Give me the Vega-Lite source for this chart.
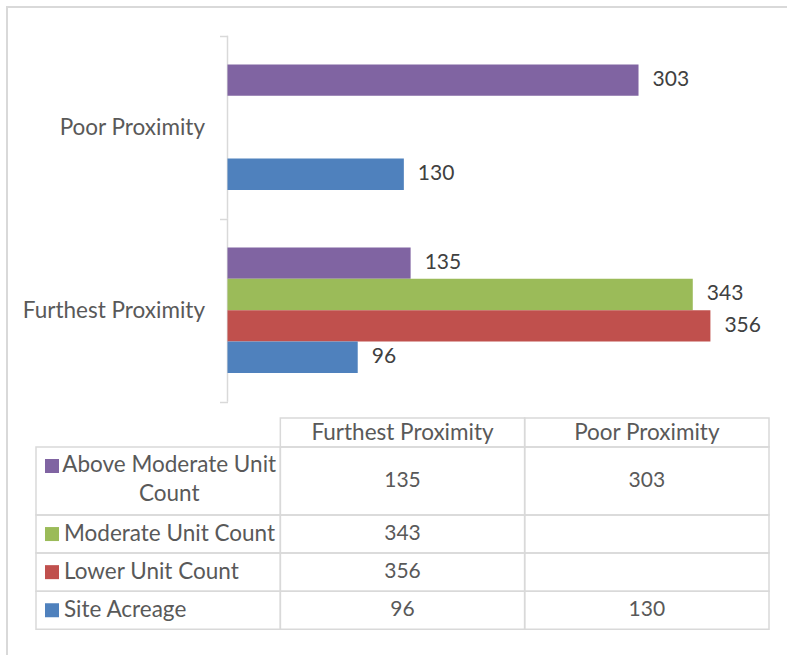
{
  "$schema": "https://vega.github.io/schema/vega-lite/v6.json",
  "width": 784,
  "height": 652,
  "autosize": {"type": "none"},
  "padding": {"left": 7, "top": 7, "right": -4, "bottom": -4},
  "background": "white",
  "config": {
    "view": {"stroke": "#d9d9d9", "strokeWidth": 2},
    "font": "Lato",
    "text": {"font": "Lato", "fontSize": 22.5, "color": "#595959"}
  },
  "datasets": {
    "bars": [
      {"proximity": "Furthest Proximity", "series": "Above Moderate Unit Count", "value": 135},
      {"proximity": "Furthest Proximity", "series": "Moderate Unit Count", "value": 343},
      {"proximity": "Furthest Proximity", "series": "Lower Unit Count", "value": 356},
      {"proximity": "Furthest Proximity", "series": "Site Acreage", "value": 96},
      {"proximity": "Poor Proximity", "series": "Above Moderate Unit Count", "value": 303},
      {"proximity": "Poor Proximity", "series": "Moderate Unit Count", "value": null},
      {"proximity": "Poor Proximity", "series": "Lower Unit Count", "value": null},
      {"proximity": "Poor Proximity", "series": "Site Acreage", "value": 130}
    ]
  },
  "data": {"name": "bars"},
  "resolve": {"scale": {"x": "independent", "y": "independent"}},
  "layer": [
    {
      "layer": [
        {
          "transform": [{"filter": "datum.series === 'Site Acreage'"}],
          "mark": {"type": "rect", "fill": "transparent", "stroke": "#d9d9d9", "strokeWidth": 1.5},
          "encoding": {
            "y": {
              "field": "proximity", "type": "nominal",
              "scale": {"domain": ["Poor Proximity", "Furthest Proximity"], "range": [28.7, 394.7], "paddingInner": 0, "paddingOuter": 0},
              "axis": {
                "orient": "left", "offset": -220.5, "title": null, "domain": false, "grid": false,
                "tickBand": "extent", "tickSize": 8, "tickWidth": 1.5, "tickColor": "#d9d9d9",
                "labelPadding": 15, "labelFont": "Lato", "labelFontSize": 22.5, "labelColor": "#595959", "labelLimit": 0
              }
            },
            "x": {"datum": 0, "type": "quantitative", "scale": {"domain": [0, 400], "range": [220.5, 763.1], "nice": false, "zero": false}, "axis": null},
            "x2": {"datum": 0}
          }
        },
        {
          "mark": {"type": "bar"},
          "encoding": {
            "y": {"field": "proximity", "type": "nominal"},
            "yOffset": {
              "field": "series", "type": "nominal",
              "scale": {"domain": ["Above Moderate Unit Count", "Moderate Unit Count", "Lower Unit Count", "Site Acreage"], "paddingInner": 0, "paddingOuter": 0.914}
            },
            "x": {"field": "value", "type": "quantitative", "stack": null},
            "color": {
              "field": "series", "type": "nominal",
              "scale": {"domain": ["Above Moderate Unit Count", "Moderate Unit Count", "Lower Unit Count", "Site Acreage"], "range": ["#8064A2", "#9BBB59", "#C0504D", "#4F81BD"]},
              "legend": null
            }
          }
        },
        {
          "transform": [{"filter": "datum.value != null"}],
          "mark": {"type": "text", "align": "left", "baseline": "middle", "dx": 14, "color": "#404040", "fontSize": 21},
          "encoding": {
            "y": {"field": "proximity", "type": "nominal"},
            "yOffset": {"field": "series", "type": "nominal"},
            "x": {"field": "value", "type": "quantitative"},
            "text": {"field": "value", "type": "quantitative"}
          }
        }
      ]
    },
    {
      "transform": [{"filter": "datum.series === 'Site Acreage'"}],
      "layer": [
        {
          "mark": {"type": "rect", "fill": "transparent", "stroke": "#d9d9d9", "strokeWidth": 1.5},
          "encoding": {
            "x": {"field": "proximity", "type": "nominal", "axis": null,
              "scale": {"domain": ["Series", "Furthest Proximity", "Poor Proximity"], "range": [29, 762], "paddingInner": 0, "paddingOuter": 0}},
            "y": {"datum": "header", "type": "nominal", "axis": null,
              "scale": {"domain": ["header"], "range": [411, 440], "paddingInner": 0, "paddingOuter": 0}}
          }
        },
        {
          "mark": {"type": "text", "align": "center", "baseline": "middle"},
          "encoding": {
            "x": {"field": "proximity", "type": "nominal"},
            "y": {"datum": "header", "type": "nominal"},
            "text": {"field": "proximity"}
          }
        }
      ]
    },
    {
      "transform": [{"filter": "datum.series === 'Above Moderate Unit Count'"}],
      "layer": [
        {
          "mark": {"type": "rect", "fill": "transparent", "stroke": "#d9d9d9", "strokeWidth": 1.5},
          "encoding": {
            "x": {"field": "proximity", "type": "nominal", "axis": null,
              "scale": {"domain": ["Series", "Furthest Proximity", "Poor Proximity"], "range": [29, 762], "paddingInner": 0, "paddingOuter": 0}},
            "y": {"field": "series", "type": "nominal", "axis": null,
              "scale": {"domain": ["Above Moderate Unit Count"], "range": [440, 508], "paddingInner": 0, "paddingOuter": 0}}
          }
        },
        {
          "transform": [{"filter": "datum.proximity === 'Furthest Proximity'"}],
          "layer": [
            {
              "mark": {"type": "rect", "fill": "transparent", "stroke": "#d9d9d9", "strokeWidth": 1.5},
              "encoding": {
                "x": {"datum": "Series", "type": "nominal"},
                "y": {"field": "series", "type": "nominal"}
              }
            },
            {
              "mark": {"type": "point", "shape": "square", "filled": true, "opacity": 1, "size": 196, "xOffset": 16, "yOffset": -15},
              "encoding": {
                "x": {"datum": "Series", "type": "nominal", "bandPosition": 0},
                "y": {"field": "series", "type": "nominal"},
                "color": {"field": "series", "type": "nominal"}
              }
            },
            {
              "mark": {"type": "text", "align": "center", "baseline": "middle", "dx": 11, "dy": -16, "lineHeight": 29},
              "encoding": {
                "x": {"datum": "Series", "type": "nominal"},
                "y": {"field": "series", "type": "nominal"},
                "text": {"value": ["Above Moderate Unit", "Count"]}
              }
            }
          ]
        },
        {
          "transform": [{"filter": "datum.value != null"}],
          "mark": {"type": "text", "align": "center", "baseline": "middle", "fontSize": 21},
          "encoding": {
            "x": {"field": "proximity", "type": "nominal"},
            "y": {"field": "series", "type": "nominal"},
            "text": {"field": "value", "type": "quantitative"}
          }
        }
      ]
    },
    {
      "transform": [{"filter": "datum.series !== 'Above Moderate Unit Count'"}],
      "layer": [
        {
          "mark": {"type": "rect", "fill": "transparent", "stroke": "#d9d9d9", "strokeWidth": 1.5},
          "encoding": {
            "x": {"field": "proximity", "type": "nominal", "axis": null,
              "scale": {"domain": ["Series", "Furthest Proximity", "Poor Proximity"], "range": [29, 762], "paddingInner": 0, "paddingOuter": 0}},
            "y": {"field": "series", "type": "nominal", "axis": null,
              "scale": {"domain": ["Moderate Unit Count", "Lower Unit Count", "Site Acreage"], "range": [508, 622.3], "paddingInner": 0, "paddingOuter": 0}}
          }
        },
        {
          "transform": [{"filter": "datum.proximity === 'Furthest Proximity'"}],
          "layer": [
            {
              "mark": {"type": "rect", "fill": "transparent", "stroke": "#d9d9d9", "strokeWidth": 1.5},
              "encoding": {
                "x": {"datum": "Series", "type": "nominal"},
                "y": {"field": "series", "type": "nominal"}
              }
            },
            {
              "mark": {"type": "point", "shape": "square", "filled": true, "opacity": 1, "size": 196, "xOffset": 16},
              "encoding": {
                "x": {"datum": "Series", "type": "nominal", "bandPosition": 0},
                "y": {"field": "series", "type": "nominal"},
                "color": {"field": "series", "type": "nominal"}
              }
            },
            {
              "mark": {"type": "text", "align": "left", "baseline": "middle", "dx": 28},
              "encoding": {
                "x": {"datum": "Series", "type": "nominal", "bandPosition": 0},
                "y": {"field": "series", "type": "nominal"},
                "text": {"field": "series"}
              }
            }
          ]
        },
        {
          "transform": [{"filter": "datum.value != null"}],
          "mark": {"type": "text", "align": "center", "baseline": "middle", "fontSize": 21},
          "encoding": {
            "x": {"field": "proximity", "type": "nominal"},
            "y": {"field": "series", "type": "nominal"},
            "text": {"field": "value", "type": "quantitative"}
          }
        }
      ]
    }
  ]
}
